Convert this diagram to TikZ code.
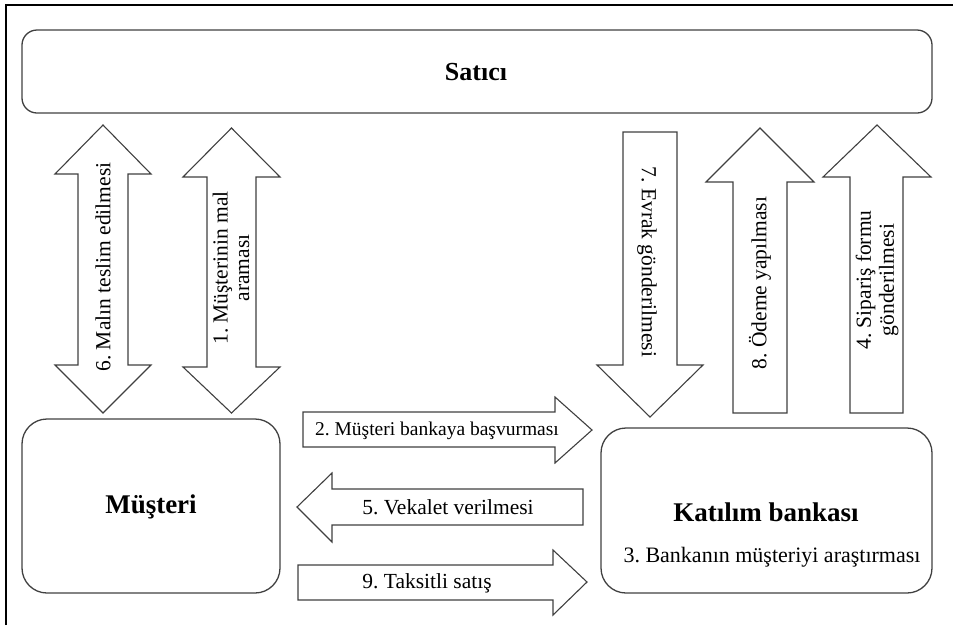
\documentclass[tikz,border=0pt]{standalone}
\usepackage{fontspec}
\setmainfont{Liberation Serif}
\frenchspacing
\begin{document}
\begin{tikzpicture}[x=1pt,y=-1pt,
  frameline/.style={line width=2.4pt,black},
  party/.style={draw=black!75,line width=1.3pt,rounded corners=#1,inner sep=0pt},
  party/.default=25pt,
  blockarrow/.style={draw=black!75,line width=1.1pt,fill=white,line join=miter},
  title/.style={font=\fontsize{27}{30}\selectfont\bfseries},
  label/.style={font=\fontsize{21.5}{21.5}\selectfont,align=center,inner sep=0pt},
]
\useasboundingbox (0,0) rectangle (953,625);

% outer frame (top and left edges)
\draw[frameline] (6,625) -- (6,5) -- (953,5);

% parties
\node[party=15pt,minimum width=910pt,minimum height=83pt] (seller) at (477,71.5) {};
\node[title,font=\fontsize{26}{28}\selectfont\bfseries] (sellerlbl) at (476,72) {Satıcı};

\node[party,minimum width=258pt,minimum height=174pt] (customer) at (151,506) {};
\node[title] (customerlbl) at (151,507) {Müşteri};

\node[party,minimum width=331pt,minimum height=165pt] (bank) at (766.5,510.5) {};
\node[title] (banklbl) at (766,512) {Katılım bankası};
\node[label,font=\fontsize{22}{24}\selectfont] (banknote) at (772,557) {3. Bankanın müşteriyi araştırması};

% vertical block arrows between seller and customer
\draw[blockarrow] (103,125) -- (151,174) -- (128,174) -- (128,365) -- (151,365)
  -- (103,413) -- (55,365) -- (78,365) -- (78,174) -- (55,174) -- cycle;
\node[label,rotate=90] (a6) at (103,267) {6. Malın teslim edilmesi};

\draw[blockarrow] (231.5,128) -- (280,177) -- (256,177) -- (256,367) -- (280,367)
  -- (231.5,413) -- (183,367) -- (207,367) -- (207,177) -- (183,177) -- cycle;
\node[label,rotate=90] (a1) at (231,268) {1. Müşterinin mal\\araması};

% vertical block arrows between seller and bank
\draw[blockarrow] (623,132) -- (677,132) -- (677,365) -- (703,365) -- (650,417)
  -- (597,365) -- (623,365) -- cycle;
\node[label,rotate=-90] (a7) at (647,262) {7. Evrak gönderilmesi};

\draw[blockarrow] (760,128) -- (814,182) -- (787,182) -- (787,413) -- (733,413)
  -- (733,182) -- (706,182) -- cycle;
\node[label,rotate=90] (a8) at (760,283) {8. Ödeme yapılması};

\draw[blockarrow] (877,125) -- (931,177) -- (903,177) -- (903,413) -- (850,413)
  -- (850,177) -- (823,177) -- cycle;
\node[label,rotate=90,font=\fontsize{21.5}{23}\selectfont] (a4) at (877,280) {4. Sipariş formu\\gönderilmesi};

% horizontal block arrows between customer and bank
\draw[blockarrow] (303,412) -- (555,412) -- (555,397) -- (592,430) -- (555,463)
  -- (555,447) -- (303,447) -- cycle;
\node[label,font=\fontsize{19.5}{20}\selectfont] (a2) at (437,431) {2. Müşteri bankaya başvurması};

\draw[blockarrow] (297,507) -- (332,473) -- (332,489) -- (583,489) -- (583,525)
  -- (332,525) -- (332,542) -- cycle;
\node[label] (a5) at (448,507) {5. Vekalet verilmesi};

\draw[blockarrow] (298,565) -- (553,565) -- (553,550) -- (587,582) -- (553,615)
  -- (553,600) -- (298,600) -- cycle;
\node[label] (a9) at (427,583) {9. Taksitli satış};
\end{tikzpicture}
\end{document}
